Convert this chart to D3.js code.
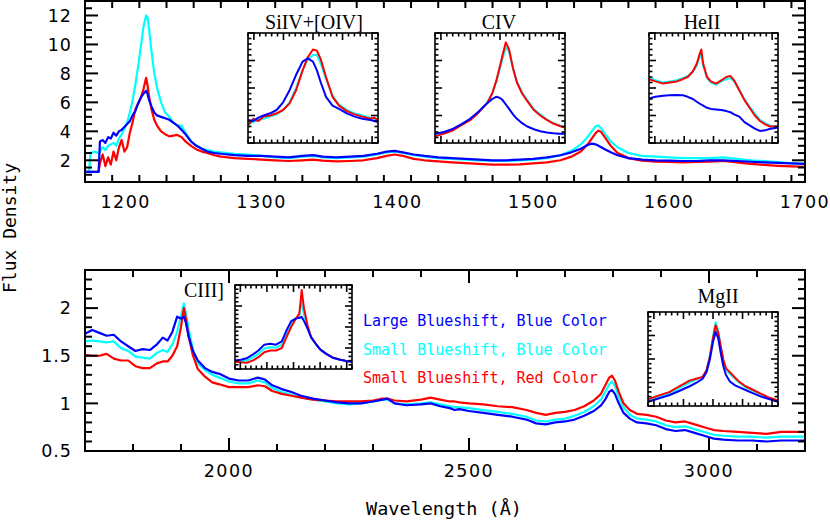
<!DOCTYPE html>
<html lang="en">
<head>
<meta charset="UTF-8">
<title>Composite spectra</title>
<script src="https://d3js.org/d3.v7.min.js"></script>
<style>
  body { margin: 0; background: #fff; }
</style>
</head>
<body>
<svg id="chart"></svg>
<script>
const width = 830, height = 522;
const BLUE = "#0000ff", CYAN = "#00ffff", RED = "#ff0000";

// ---- top panel, 1170-1700 A ----
const waveTop = [1170, 1173, 1174, 1177, 1180, 1181, 1183, 1185, 1187, 1189, 1191, 1193, 1195, 1197, 1199, 1201, 1203, 1205, 1207, 1209, 1211, 1213, 1215, 1216, 1217, 1219, 1221, 1223, 1226, 1229, 1232, 1235, 1238, 1241, 1244, 1248, 1252, 1256, 1260, 1265, 1270, 1280, 1290, 1300, 1310, 1320, 1330, 1338, 1345, 1355, 1365, 1375, 1385, 1392, 1398, 1404, 1412, 1420, 1430, 1440, 1450, 1460, 1470, 1480, 1490, 1500, 1510, 1520, 1528, 1535, 1540, 1543, 1546, 1548, 1550, 1553, 1557, 1562, 1570, 1580, 1590, 1600, 1610, 1620, 1630, 1640, 1650, 1660, 1670, 1680, 1690, 1700];
const blueTop = [1.2, 1.2, 1.2, 1.2, 1.2, 3.3, 3.4, 3.2, 3.6, 3.5, 3.9, 3.7, 4.0, 4.1, 4.3, 4.5, 4.7, 5.1, 5.4, 5.9, 6.3, 6.6, 6.8, 6.6, 6.2, 5.7, 5.3, 5.1, 5.0, 4.9, 4.8, 4.6, 4.4, 4.1, 3.8, 3.3, 3.0, 2.8, 2.6, 2.5, 2.45, 2.35, 2.3, 2.3, 2.25, 2.2, 2.3, 2.35, 2.25, 2.2, 2.25, 2.3, 2.45, 2.6, 2.65, 2.55, 2.4, 2.3, 2.2, 2.15, 2.1, 2.05, 2.0, 2.0, 2.05, 2.1, 2.2, 2.35, 2.55, 2.8, 3.05, 3.15, 3.1, 3.0, 2.9, 2.75, 2.55, 2.35, 2.15, 2.05, 2.0, 1.98, 1.95, 1.95, 2.0, 2.0, 1.95, 1.9, 1.85, 1.82, 1.78, 1.75];
const cyanTop = [1.2, 1.2, 2.5, 2.6, 2.5, 2.6, 2.9, 2.7, 3.0, 3.1, 3.2, 3.0, 3.5, 3.8, 4.2, 4.6, 5.3, 6.1, 7.2, 8.4, 9.8, 11.2, 12.0, 11.9, 11.2, 9.5, 8.0, 7.0, 6.0, 5.3, 5.0, 4.6, 4.4, 4.4, 3.9, 3.3, 3.0, 2.8, 2.7, 2.6, 2.55, 2.45, 2.4, 2.3, 2.2, 2.15, 2.25, 2.3, 2.2, 2.15, 2.2, 2.25, 2.4, 2.55, 2.6, 2.5, 2.35, 2.25, 2.15, 2.1, 2.05, 2.0, 1.95, 1.95, 2.0, 2.05, 2.15, 2.35, 2.65, 3.1, 3.6, 4.0, 4.35, 4.4, 4.2, 3.8, 3.3, 2.9, 2.5, 2.3, 2.25, 2.2, 2.15, 2.15, 2.15, 2.2, 2.1, 2.0, 1.95, 1.88, 1.8, 1.75];
const redTop = [1.2, 1.2, 1.2, 1.2, 1.2, 1.8, 2.4, 1.6, 2.2, 1.7, 2.6, 2.0, 2.9, 3.4, 2.6, 2.9, 3.9, 4.6, 5.5, 5.9, 6.3, 6.9, 7.7, 7.2, 6.5, 5.5, 4.8, 4.4, 4.0, 3.8, 3.65, 3.7, 3.75, 3.6, 3.3, 3.0, 2.75, 2.6, 2.5, 2.35, 2.25, 2.15, 2.1, 2.05, 2.0, 1.95, 2.0, 2.05, 1.98, 1.92, 1.95, 2.0, 2.15, 2.3, 2.4, 2.3, 2.1, 2.0, 1.92, 1.85, 1.8, 1.75, 1.7, 1.7, 1.72, 1.78, 1.85, 2.0, 2.25, 2.6, 3.1, 3.5, 3.9, 4.05, 3.95, 3.55, 3.0, 2.5, 2.15, 1.98, 1.9, 1.88, 1.85, 1.88, 1.9, 1.95, 1.85, 1.75, 1.68, 1.62, 1.58, 1.55];

// ---- bottom panel, 1700-3200 A ----
const waveBot = [1700, 1715, 1730, 1745, 1760, 1775, 1790, 1805, 1820, 1835, 1850, 1862, 1872, 1882, 1892, 1900, 1906, 1910, 1916, 1925, 1935, 1950, 1965, 1980, 2000, 2020, 2040, 2060, 2075, 2090, 2110, 2130, 2150, 2175, 2200, 2225, 2250, 2275, 2300, 2320, 2330, 2345, 2370, 2400, 2420, 2440, 2460, 2470, 2480, 2500, 2530, 2560, 2590, 2620, 2640, 2660, 2680, 2700, 2720, 2740, 2760, 2775, 2785, 2792, 2798, 2804, 2812, 2822, 2835, 2850, 2870, 2890, 2910, 2930, 2950, 2970, 2990, 3010, 3030, 3060, 3090, 3120, 3150, 3180, 3200];
const blueBot = [1.73, 1.77, 1.74, 1.71, 1.72, 1.65, 1.6, 1.55, 1.57, 1.56, 1.62, 1.69, 1.66, 1.75, 1.91, 1.89, 1.91, 1.85, 1.7, 1.55, 1.45, 1.37, 1.33, 1.31, 1.26, 1.24, 1.24, 1.27, 1.25, 1.19, 1.15, 1.12, 1.08, 1.05, 1.03, 1.01, 1.0, 1.0, 1.02, 1.04, 1.05, 1.0, 0.98, 0.99, 1.0, 0.97, 0.95, 0.93, 0.94, 0.92, 0.9, 0.88, 0.86, 0.83, 0.79, 0.78, 0.8, 0.81, 0.83, 0.87, 0.92, 0.98, 1.05, 1.12, 1.14, 1.1, 1.0, 0.9, 0.84, 0.8, 0.79, 0.77, 0.73, 0.71, 0.72, 0.69, 0.66, 0.63, 0.62, 0.61, 0.61, 0.6, 0.61, 0.61, 0.61];
const cyanBot = [1.65, 1.66, 1.65, 1.64, 1.65, 1.58, 1.55, 1.49, 1.48, 1.47, 1.53, 1.56, 1.54, 1.62, 1.75, 1.92, 2.05, 1.95, 1.78, 1.56, 1.42, 1.35, 1.3, 1.27, 1.23, 1.21, 1.21, 1.24, 1.22, 1.16, 1.12, 1.09, 1.06, 1.04, 1.02, 1.0, 0.99, 1.0, 1.02, 1.04, 1.04, 1.0, 0.99, 1.0, 1.01, 0.99, 0.97, 0.96, 0.96, 0.95, 0.93, 0.91, 0.89, 0.86, 0.82, 0.81, 0.83, 0.84, 0.87, 0.91, 0.97, 1.04, 1.13, 1.2, 1.23, 1.18, 1.07, 0.96, 0.88, 0.84, 0.83, 0.81, 0.77, 0.75, 0.76, 0.73, 0.7, 0.67, 0.66, 0.65, 0.65, 0.64, 0.65, 0.65, 0.65];
const redBot = [1.51, 1.5, 1.5, 1.52, 1.47, 1.45, 1.45, 1.39, 1.37, 1.37, 1.42, 1.44, 1.44, 1.5, 1.6, 1.8, 2.0, 1.9, 1.7, 1.5, 1.36, 1.28, 1.22, 1.2, 1.17, 1.17, 1.17, 1.19, 1.18, 1.13, 1.1, 1.08, 1.06, 1.04, 1.03, 1.02, 1.02, 1.02, 1.03, 1.05, 1.05, 1.03, 1.02, 1.04, 1.06, 1.04, 1.02, 1.02, 1.01, 1.0, 0.99, 0.97, 0.96, 0.93, 0.9, 0.88, 0.9, 0.91, 0.93, 0.97, 1.03, 1.1, 1.2, 1.27, 1.29, 1.24, 1.12, 1.0, 0.93, 0.89, 0.88, 0.86, 0.82, 0.8, 0.81, 0.78, 0.75, 0.72, 0.71, 0.7, 0.69, 0.68, 0.7, 0.7, 0.7];

// ---- insets (relative position across the line, normalised flux) ----
const siivU = [0, 0.04, 0.08, 0.12, 0.17, 0.22, 0.27, 0.32, 0.37, 0.42, 0.46, 0.5, 0.53, 0.56, 0.6, 0.65, 0.7, 0.76, 0.82, 0.88, 0.94, 0.97, 1.0];
const siivBlue = [0.21, 0.2, 0.23, 0.25, 0.27, 0.3, 0.37, 0.48, 0.62, 0.74, 0.77, 0.74, 0.66, 0.55, 0.42, 0.34, 0.31, 0.27, 0.24, 0.22, 0.21, 0.2, 0.19];
const siivCyan = [0.17, 0.19, 0.21, 0.22, 0.24, 0.26, 0.3, 0.37, 0.5, 0.66, 0.76, 0.8, 0.8, 0.72, 0.58, 0.43, 0.35, 0.3, 0.27, 0.25, 0.23, 0.22, 0.21];
const siivRed = [0.16, 0.22, 0.2, 0.24, 0.25, 0.27, 0.3, 0.36, 0.48, 0.66, 0.78, 0.85, 0.84, 0.76, 0.6, 0.42, 0.34, 0.29, 0.26, 0.24, 0.22, 0.23, 0.21];

const civU = [0, 0.07, 0.14, 0.2, 0.27, 0.33, 0.4, 0.44, 0.47, 0.5, 0.52, 0.545, 0.57, 0.6, 0.63, 0.67, 0.71, 0.76, 0.81, 0.86, 0.91, 0.96, 1.0];
const civBlue = [0.085, 0.1, 0.13, 0.17, 0.22, 0.28, 0.36, 0.4, 0.42, 0.41, 0.39, 0.35, 0.31, 0.26, 0.22, 0.18, 0.15, 0.125, 0.107, 0.095, 0.088, 0.085, 0.085];
const civCyan = [0.07, 0.09, 0.12, 0.165, 0.21, 0.275, 0.365, 0.45, 0.55, 0.68, 0.77, 0.866, 0.83, 0.68, 0.56, 0.46, 0.39, 0.31, 0.26, 0.215, 0.18, 0.16, 0.145];
const civRed = [0.06, 0.085, 0.116, 0.16, 0.207, 0.27, 0.36, 0.45, 0.56, 0.7, 0.8, 0.915, 0.85, 0.68, 0.55, 0.45, 0.38, 0.3, 0.25, 0.21, 0.177, 0.155, 0.14];

const heiiU = [0, 0.05, 0.11, 0.16, 0.215, 0.26, 0.3, 0.34, 0.37, 0.39, 0.405, 0.42, 0.45, 0.48, 0.52, 0.56, 0.6, 0.63, 0.66, 0.7, 0.74, 0.78, 0.82, 0.86, 0.9, 0.94, 0.97, 1.0];
const heiiBlue = [0.405, 0.42, 0.43, 0.435, 0.436, 0.435, 0.42, 0.4, 0.375, 0.36, 0.35, 0.34, 0.32, 0.31, 0.305, 0.3, 0.29, 0.28, 0.26, 0.24, 0.19, 0.16, 0.13, 0.11, 0.115, 0.13, 0.135, 0.14];
const heiiCyan = [0.6, 0.57, 0.55, 0.56, 0.57, 0.59, 0.61, 0.65, 0.7, 0.77, 0.81, 0.7, 0.59, 0.55, 0.53, 0.56, 0.58, 0.59, 0.56, 0.48, 0.4, 0.33, 0.27, 0.21, 0.18, 0.16, 0.15, 0.15];
const heiiRed = [0.58, 0.56, 0.54, 0.55, 0.56, 0.58, 0.6, 0.65, 0.72, 0.8, 0.85, 0.72, 0.6, 0.56, 0.54, 0.57, 0.6, 0.61, 0.57, 0.48, 0.39, 0.32, 0.25, 0.2, 0.17, 0.15, 0.15, 0.15];

const ciiiU = [0, 0.05, 0.1, 0.15, 0.2, 0.25, 0.3, 0.35, 0.4, 0.44, 0.48, 0.52, 0.55, 0.57, 0.59, 0.62, 0.65, 0.69, 0.73, 0.78, 0.84, 0.9, 0.95, 1.0];
const ciiiBlue = [0.1, 0.11, 0.127, 0.17, 0.22, 0.29, 0.3, 0.29, 0.33, 0.46, 0.57, 0.6, 0.61, 0.62, 0.57, 0.48, 0.38, 0.3, 0.23, 0.18, 0.13, 0.11, 0.095, 0.087];
const ciiiCyan = [0.095, 0.095, 0.1, 0.135, 0.18, 0.245, 0.26, 0.255, 0.29, 0.42, 0.54, 0.6, 0.64, 0.8, 0.64, 0.5, 0.38, 0.3, 0.23, 0.18, 0.133, 0.11, 0.095, 0.087];
const ciiiRed = [0.087, 0.08, 0.075, 0.1, 0.14, 0.2, 0.22, 0.22, 0.25, 0.38, 0.5, 0.6, 0.66, 0.94, 0.72, 0.52, 0.38, 0.3, 0.23, 0.18, 0.135, 0.11, 0.095, 0.087];

const mgiiU = [0, 0.08, 0.167, 0.24, 0.32, 0.37, 0.42, 0.45, 0.475, 0.5, 0.52, 0.54, 0.56, 0.58, 0.6, 0.63, 0.67, 0.7, 0.75, 0.81, 0.87, 0.93, 1.0];
const mgiiBlue = [0.046, 0.08, 0.117, 0.16, 0.21, 0.245, 0.29, 0.36, 0.49, 0.68, 0.79, 0.72, 0.56, 0.42, 0.33, 0.26, 0.22, 0.2, 0.17, 0.134, 0.1, 0.075, 0.046];
const mgiiCyan = [0.06, 0.1, 0.135, 0.19, 0.25, 0.28, 0.31, 0.38, 0.53, 0.74, 0.89, 0.8, 0.63, 0.48, 0.39, 0.34, 0.29, 0.25, 0.2, 0.16, 0.12, 0.085, 0.05];
const mgiiRed = [0.07, 0.11, 0.15, 0.21, 0.27, 0.29, 0.31, 0.38, 0.52, 0.72, 0.86, 0.78, 0.63, 0.49, 0.4, 0.36, 0.3, 0.26, 0.21, 0.17, 0.13, 0.09, 0.057];

const legendLabels = ["Large Blueshift, Blue Color", "Small Blueshift, Blue Color", "Small Blueshift, Red Color"];
const legendColors = [BLUE, CYAN, RED];

const svg = d3.select("#chart").attr("width", width).attr("height", height);
const defs = svg.append("defs");
const tickFont = "'DejaVu Sans', sans-serif";
const monoFont = "'DejaVu Sans Mono', monospace";
const serifFont = "'Liberation Serif', 'DejaVu Serif', serif";

let clipCount = 0;
function drawSpectra(g, x, y, box, wave, series, lw) {
  const id = "clip" + (clipCount++);
  defs.append("clipPath").attr("id", id).append("rect")
    .attr("x", box.left).attr("y", box.top)
    .attr("width", box.right - box.left).attr("height", box.bottom - box.top);
  const line = d3.line().x(d => x(d[0])).y(d => y(d[1]));
  series.forEach(s => {
    g.append("path")
      .datum(wave.map((w, i) => [w, s.values[i]]))
      .attr("clip-path", `url(#${id})`)
      .attr("fill", "none")
      .attr("stroke", s.color)
      .attr("stroke-width", lw)
      .attr("stroke-linejoin", "round")
      .attr("d", line);
  });
}

function drawTicks(g, x, y, box, xt, yt, majLen, minLen, sw) {
  const t = g.append("g").attr("stroke", "#000").attr("stroke-width", sw);
  xt.forEach(d => {
    const len = d.major ? majLen : minLen, px = x(d.v);
    t.append("line").attr("x1", px).attr("x2", px).attr("y1", box.bottom).attr("y2", box.bottom - len);
    t.append("line").attr("x1", px).attr("x2", px).attr("y1", box.top).attr("y2", box.top + len);
  });
  yt.forEach(d => {
    const len = d.major ? majLen : minLen, py = y(d.v);
    t.append("line").attr("y1", py).attr("y2", py).attr("x1", box.left).attr("x2", box.left + len);
    t.append("line").attr("y1", py).attr("y2", py).attr("x1", box.right).attr("x2", box.right - len);
  });
  g.append("rect")
    .attr("x", box.left).attr("y", box.top)
    .attr("width", box.right - box.left).attr("height", box.bottom - box.top)
    .attr("fill", "none").attr("stroke", "#000").attr("stroke-width", sw);
}

function mainPanel(o) {
  const box = o.box;
  const x = d3.scaleLinear().domain(o.xDomain).range([box.left, box.right]);
  const y = d3.scaleLinear().domain(o.yDomain).range([box.bottom, box.top]);
  const g = svg.append("g");
  drawSpectra(g, x, y, box, o.wave, o.series, 2.2);
  const xt = d3.range(o.xDomain[0], o.xDomain[1] + 1e-6, o.xMinor)
    .map(v => ({ v, major: Math.abs(v / o.xMajor - Math.round(v / o.xMajor)) < 1e-6 }));
  const yt = d3.range(Math.round(o.yDomain[0] / o.yMinor), Math.round(o.yDomain[1] / o.yMinor) + 1)
    .map(k => k * o.yMinor)
    .map(v => ({ v, major: Math.abs(v / o.yMajor - Math.round(v / o.yMajor)) < 1e-6 }));
  drawTicks(g, x, y, box, xt, yt, 13, 7, 2);
  g.selectAll(".xl").data(o.xLabels).join("text")
    .attr("x", d => x(d)).attr("y", box.bottom + 26)
    .attr("text-anchor", "middle")
    .style("font-family", tickFont).style("font-size", "17.5px").style("letter-spacing", "1.5px")
    .text(d => d);
  g.selectAll(".yl").data(o.yLabels).join("text")
    .attr("x", box.left - 13).attr("y", d => y(d)).attr("dy", "0.36em")
    .attr("text-anchor", "end")
    .style("font-family", tickFont).style("font-size", "17.5px").style("letter-spacing", "1px")
    .text(d => d);
  return { x, y };
}

function inset(o) {
  const box = o.box;
  const x = d3.scaleLinear().domain([0, 1]).range([box.left, box.right]);
  const y = d3.scaleLinear().domain([0, 1]).range([box.bottom, box.top]);
  const g = svg.append("g");
  drawSpectra(g, x, y, box, o.u, o.series, 2);
  const xt = d3.range(-11, 12).map(k => ({ v: 0.5 + k / 22, major: k % 5 === 0 }));
  const yt = d3.range(0, 21).map(k => ({ v: k * 0.05, major: k % 5 === 0 }));
  drawTicks(g, x, y, box, xt, yt, 7, 3.5, 1.6);
  g.append("text")
    .attr("x", o.titleX).attr("y", o.titleY)
    .attr("text-anchor", o.anchor || "middle")
    .style("font-family", serifFont).style("font-size", "20px")
    .text(o.title);
}

// spectra are drawn cyan, red, blue so blue ends on top
mainPanel({
  box: { left: 85, right: 805, top: 1, bottom: 182 },
  xDomain: [1170, 1700], yDomain: [0.5, 13],
  xMinor: 20, xMajor: 100, yMinor: 0.5, yMajor: 2,
  xLabels: [1200, 1300, 1400, 1500, 1600, 1700],
  yLabels: [2, 4, 6, 8, 10, 12],
  wave: waveTop,
  series: [{ values: cyanTop, color: CYAN }, { values: redTop, color: RED }, { values: blueTop, color: BLUE }]
});

mainPanel({
  box: { left: 85, right: 805, top: 270, bottom: 451 },
  xDomain: [1700, 3200], yDomain: [0.5, 2.4],
  xMinor: 100, xMajor: 500, yMinor: 0.1, yMajor: 0.5,
  xLabels: [2000, 2500, 3000],
  yLabels: [0.5, 1, 1.5, 2],
  wave: waveBot,
  series: [{ values: cyanBot, color: CYAN }, { values: redBot, color: RED }, { values: blueBot, color: BLUE }]
});

inset({ box: { left: 248, right: 378, top: 33, bottom: 143 }, title: "SiIV+[OIV]", titleX: 314, titleY: 29,
  u: siivU, series: [{ values: siivCyan, color: CYAN }, { values: siivRed, color: RED }, { values: siivBlue, color: BLUE }] });
inset({ box: { left: 435, right: 565, top: 33, bottom: 143 }, title: "CIV", titleX: 499, titleY: 29,
  u: civU, series: [{ values: civCyan, color: CYAN }, { values: civRed, color: RED }, { values: civBlue, color: BLUE }] });
inset({ box: { left: 649, right: 778, top: 33, bottom: 143 }, title: "HeII", titleX: 702, titleY: 29,
  u: heiiU, series: [{ values: heiiCyan, color: CYAN }, { values: heiiRed, color: RED }, { values: heiiBlue, color: BLUE }] });
inset({ box: { left: 235, right: 352, top: 285, bottom: 369 }, title: "CIII]", titleX: 224, titleY: 297, anchor: "end",
  u: ciiiU, series: [{ values: ciiiCyan, color: CYAN }, { values: ciiiRed, color: RED }, { values: ciiiBlue, color: BLUE }] });
inset({ box: { left: 648, right: 778, top: 312, bottom: 406 }, title: "MgII", titleX: 718, titleY: 303,
  u: mgiiU, series: [{ values: mgiiCyan, color: CYAN }, { values: mgiiRed, color: RED }, { values: mgiiBlue, color: BLUE }] });

// legend
svg.append("g").selectAll("text").data(legendLabels).join("text")
  .attr("x", 363).attr("y", (d, i) => 326 + i * 28.5)
  .style("font-family", monoFont).style("font-size", "15px")
  .attr("fill", (d, i) => legendColors[i])
  .text(d => d);

// axis titles
svg.append("text")
  .attr("x", 444).attr("y", 515).attr("text-anchor", "middle")
  .style("font-family", monoFont).style("font-size", "18.5px")
  .text("Wavelength (Å)");
svg.append("text")
  .attr("transform", "translate(16,228) rotate(-90)").attr("text-anchor", "middle")
  .style("font-family", monoFont).style("font-size", "18px")
  .text("Flux Density");
</script>
</body>
</html>
